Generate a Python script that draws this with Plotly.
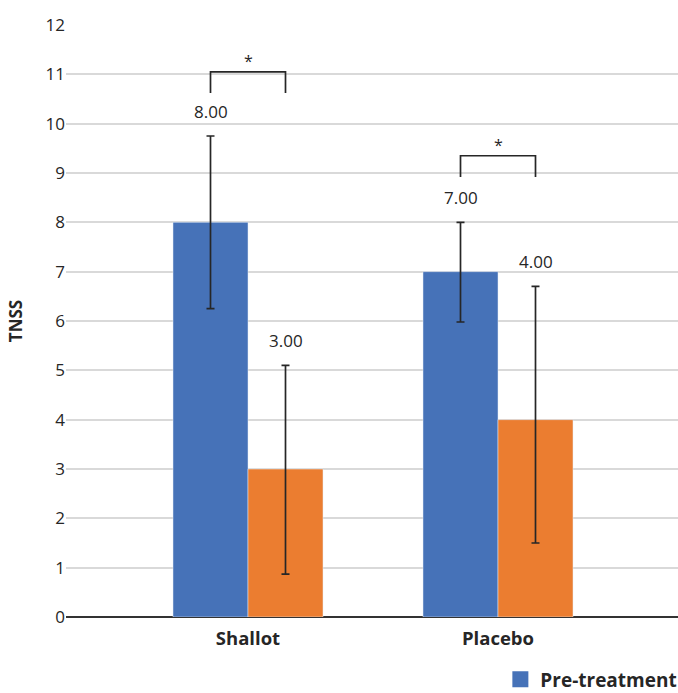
import plotly.graph_objects as go

categories = ["Shallot", "Placebo"]
pre_values = [8.00, 7.00]
post_values = [3.00, 4.00]
pre_err_plus = [1.75, 1.00]
pre_err_minus = [1.75, 1.02]
post_err_plus = [2.10, 2.70]
post_err_minus = [2.13, 2.50]
label_texts_pre = ["8.00", "7.00"]
label_texts_post = ["3.00", "4.00"]
bracket_tops = [11.05, 9.35]
bracket_drop = 0.43
y_ticks = list(range(0, 13))

BLUE = "#4672B8"
ORANGE = "#EB7D30"
FONT = "Open Sans, Noto Sans, Liberation Sans, sans-serif"

fig = go.Figure()
fig.add_trace(go.Bar(
    x=[0, 1], y=pre_values, name="Pre-treatment", marker_color=BLUE,
    error_y=dict(type="data", symmetric=False, array=pre_err_plus, arrayminus=pre_err_minus,
                 color="#262626", thickness=1.7, width=4),
    showlegend=False,
))
fig.add_trace(go.Bar(
    x=[0, 1], y=post_values, name="Post-treatment", marker_color=ORANGE,
    error_y=dict(type="data", symmetric=False, array=post_err_plus, arrayminus=post_err_minus,
                 color="#262626", thickness=1.7, width=4),
    showlegend=False,
))
# legend entry for the visible (pre-treatment) series
fig.add_trace(go.Scatter(
    x=[None], y=[None], mode="markers", name="Pre-treatment",
    marker=dict(symbol="square", size=22, color=BLUE), showlegend=True,
))

offset = 0.15
annotations = []
shapes = []
for i in range(len(categories)):
    xp = i - offset
    xq = i + offset
    annotations.append(dict(x=xp, y=pre_values[i] + pre_err_plus[i], text=label_texts_pre[i],
                            showarrow=False, yanchor="bottom", yshift=11,
                            font=dict(size=17, color="#262626", family=FONT)))
    annotations.append(dict(x=xq, y=post_values[i] + post_err_plus[i], text=label_texts_post[i],
                            showarrow=False, yanchor="bottom", yshift=11,
                            font=dict(size=17, color="#262626", family=FONT)))
    top = bracket_tops[i]
    shapes.append(dict(type="path", xref="x", yref="y",
                       path=f"M {xp} {top - bracket_drop} L {xp} {top} L {xq} {top} L {xq} {top - bracket_drop}",
                       line=dict(color="#262626", width=1.7)))
    annotations.append(dict(x=i, y=top, text="*", showarrow=False, yanchor="bottom", yshift=-2,
                            font=dict(size=16, color="#262626", family=FONT)))

fig.update_layout(
    width=678, height=693,
    margin=dict(l=66, r=0, t=25, b=76),
    paper_bgcolor="white", plot_bgcolor="white",
    barmode="group", bargap=0.4, bargroupgap=0,
    font=dict(family=FONT, color="#262626", size=17),
    annotations=annotations, shapes=shapes,
    legend=dict(orientation="h", x=0.738, xanchor="left", y=0.047, yanchor="top",
                xref="container", yref="container", font=dict(size=19, family=FONT, weight="bold"),
                bgcolor="rgba(0,0,0,0)", itemsizing="trace"),
)
fig.update_xaxes(
    range=[-0.728, 1.72], tickvals=[0, 1],
    ticktext=[f"<b>{c}</b>" for c in categories],
    showgrid=False, zeroline=False, showline=False, ticks="",
    ticklabelstandoff=8,
    tickfont=dict(size=18.5, family=FONT, color="#262626"), automargin=False,
)
fig.update_yaxes(
    range=[0, 12], tickvals=y_ticks, showgrid=True, gridcolor="#D9D9D9", gridwidth=1.5,
    zeroline=True, zerolinecolor="#333333", zerolinewidth=1.5,
    showline=False, ticks="", tickfont=dict(size=17, family=FONT, color="#262626"),
    title=dict(text="<b>TNSS</b>", standoff=18, font=dict(size=17, family=FONT)),
    automargin=False,
)

fig.write_html("out.html", config={"displayModeBar": False},
               post_script="document.body.style.margin='0';document.body.style.overflow='hidden';")
